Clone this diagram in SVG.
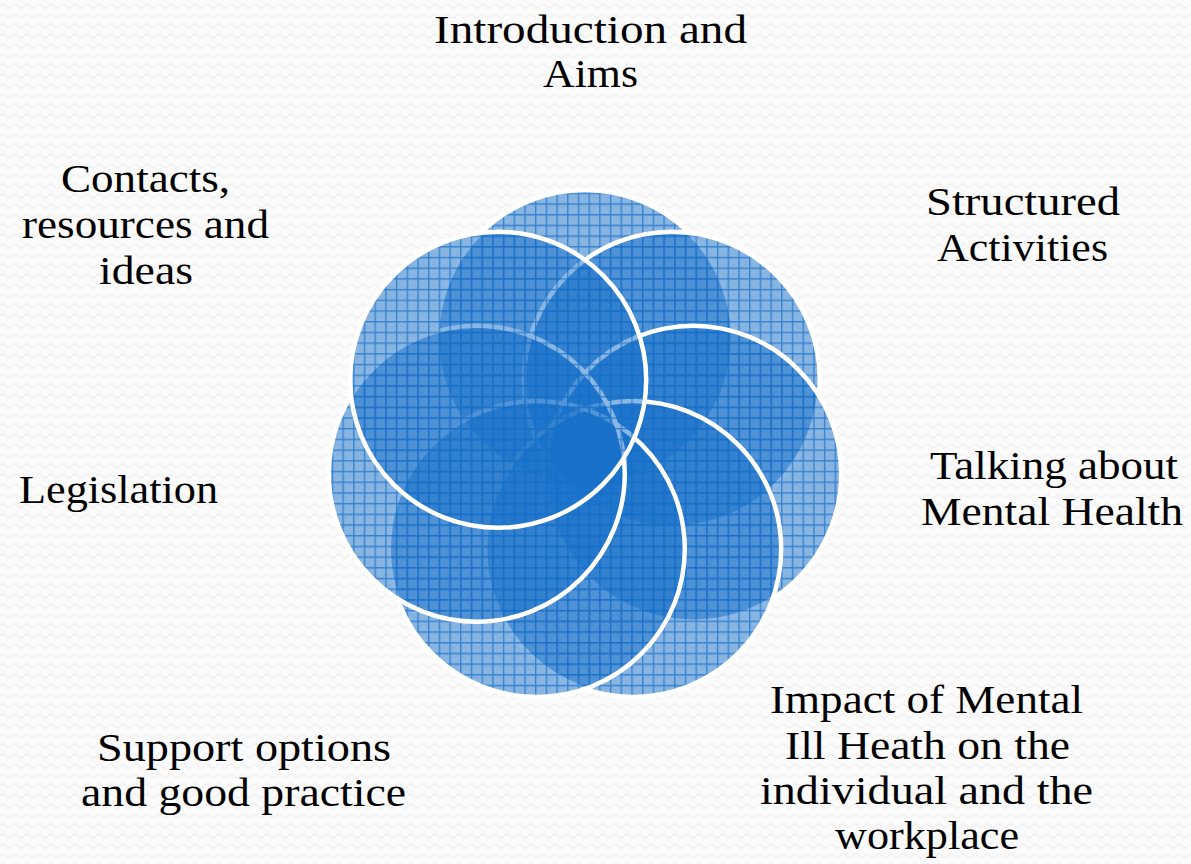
<svg xmlns="http://www.w3.org/2000/svg" width="1191" height="864" viewBox="0 0 1191 864">
  <defs>
    <pattern id="bg" width="12" height="10" patternUnits="userSpaceOnUse">
      <rect width="12" height="10" fill="#fbfbfb"/>
      <path d="M0,6 Q3,2 6,6 T12,6" fill="none" stroke="#f1f1f1" stroke-width="1.4"/>
    </pattern>
    <pattern id="grid" width="10.7" height="10.7" patternUnits="userSpaceOnUse">
      <rect width="10.7" height="10.7" fill="#1870c9" fill-opacity="0.5"/>
      <path d="M0,0.7 H10.7 M0.7,0 V10.7" fill="none" stroke="#1870c9" stroke-opacity="0.72" stroke-width="1.4"/>
    </pattern>
    <style>
      .c { fill: url(#grid); stroke: #ffffff; stroke-width: 4.5; }
      .t { font-family: "Liberation Serif", "DejaVu Serif", serif; font-size: 41px; fill: #000000; }
    </style>
  </defs>
  <rect width="1191" height="864" fill="url(#bg)"/>
  <g id="connectors"/>
  <g id="node-intro">
    <circle class="c" cx="585" cy="338" r="148"/>
    <text class="t" x="434" y="43" textLength="313" lengthAdjust="spacingAndGlyphs">Introduction and</text>
    <text class="t" x="543" y="87" textLength="95" lengthAdjust="spacingAndGlyphs">Aims</text>
  </g>
  <g id="node-structured">
    <circle class="c" cx="671.8" cy="379.8" r="148"/>
    <text class="t" x="926" y="215" textLength="194" lengthAdjust="spacingAndGlyphs">Structured</text>
    <text class="t" x="937" y="261" textLength="171" lengthAdjust="spacingAndGlyphs">Activities</text>
  </g>
  <g id="node-talking">
    <circle class="c" cx="693.2" cy="473.7" r="148"/>
    <text class="t" x="930" y="479" textLength="248" lengthAdjust="spacingAndGlyphs">Talking about</text>
    <text class="t" x="921" y="525" textLength="262" lengthAdjust="spacingAndGlyphs">Mental Health</text>
  </g>
  <g id="node-impact">
    <circle class="c" cx="633.2" cy="549" r="148"/>
    <text class="t" x="770" y="713" textLength="313" lengthAdjust="spacingAndGlyphs">Impact of Mental</text>
    <text class="t" x="785" y="759" textLength="285" lengthAdjust="spacingAndGlyphs">Ill Heath on the</text>
    <text class="t" x="760" y="804" textLength="333" lengthAdjust="spacingAndGlyphs">individual and the</text>
    <text class="t" x="835" y="849" textLength="184" lengthAdjust="spacingAndGlyphs">workplace</text>
  </g>
  <g id="node-support">
    <circle class="c" cx="536.8" cy="549" r="148"/>
    <text class="t" x="97" y="761" textLength="294" lengthAdjust="spacingAndGlyphs">Support options</text>
    <text class="t" x="81" y="806" textLength="325" lengthAdjust="spacingAndGlyphs">and good practice</text>
  </g>
  <g id="node-legislation">
    <circle class="c" cx="476.8" cy="473.7" r="148"/>
    <text class="t" x="19" y="503" textLength="199" lengthAdjust="spacingAndGlyphs">Legislation</text>
  </g>
  <g id="node-contacts">
    <circle class="c" cx="498.2" cy="379.8" r="148"/>
    <text class="t" x="61" y="192" textLength="169" lengthAdjust="spacingAndGlyphs">Contacts,</text>
    <text class="t" x="22" y="238" textLength="247" lengthAdjust="spacingAndGlyphs">resources and</text>
    <text class="t" x="99" y="284" textLength="94" lengthAdjust="spacingAndGlyphs">ideas</text>
  </g>
</svg>
